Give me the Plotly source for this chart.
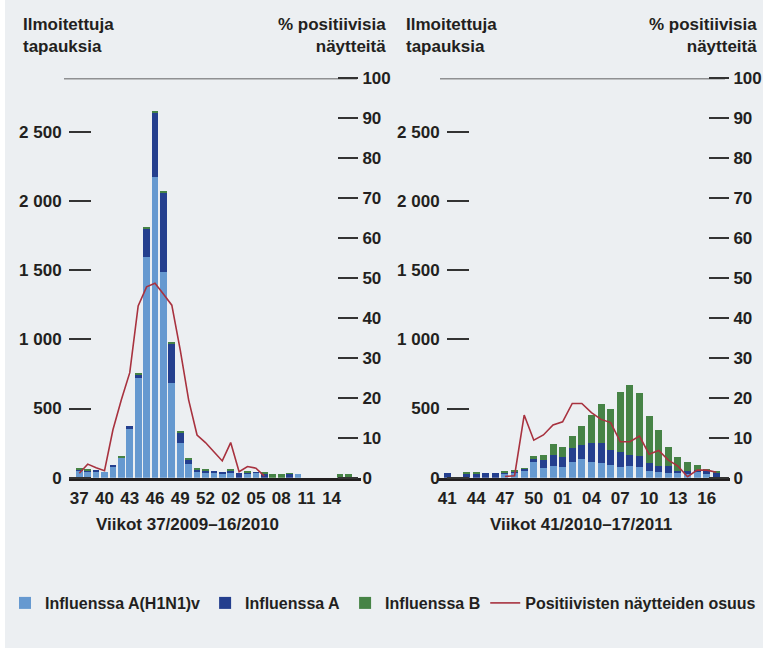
import plotly.graph_objects as go

# ---------------- data ----------------
weeks_left = ["37", "38", "39", "40", "41", "42", "43", "44", "45", "46", "47", "48", "49", "50",
              "51", "52", "53", "01", "02", "03", "04", "05", "06", "07", "08", "09", "10",
              "11", "12", "13", "14", "15", "16"]
h1n1_left = [50, 41, 40, 43, 77, 143, 353, 724, 1592, 2176, 1484, 688, 251, 99,
             39, 36, 38, 30, 36, 0, 27, 33, 0, 0, 0, 0, 28, 0, 0, 0, 0, 0, 0]
a_left = [8, 10, 8, 0, 8, 0, 21, 19, 203, 461, 572, 282, 72, 31,
          18, 14, 10, 8, 12, 36, 10, 3, 28, 0, 0, 25, 0, 0, 0, 0, 0, 0, 0]
b_left = [4, 6, 0, 0, 0, 7, 0, 7, 7, 17, 12, 3, 8, 5,
          6, 6, 0, 0, 6, 0, 7, 0, 4, 30, 30, 5, 0, 0, 0, 0, 0, 30, 30]
pct_left = [1.1, 3.4, 2.5, 1.75, 12.0, 19.5, 26.3, 43.0, 47.8, 48.7, 46.0, 43.2, 32.0, 19.5,
            10.7, 8.8, 6.5, 4.2, 8.8, 1.5, 2.8, 2.4, 0.4, None, None, None, None,
            None, None, None, None, None, None]

weeks_right = ["41", "42", "43", "44", "45", "46", "47", "48", "49", "50", "51", "52",
               "01", "02", "03", "04", "05", "06", "07", "08", "09", "10", "11", "12",
               "13", "14", "15", "16", "17"]
h1n1_right = [0, 0, 0, 0, 0, 0, 25, 32, 51, 114, 72, 85,
              75, 114, 135, 114, 106, 92, 77, 85, 77, 48, 41, 36, 32, 27, 41, 29, 0]
a_right = [32, 0, 27, 27, 32, 32, 8, 8, 10, 21, 56, 79,
           73, 99, 102, 135, 143, 108, 109, 79, 80, 58, 44, 49, 16, 21, 15, 17, 36]
b_right = [0, 0, 5, 5, 0, 0, 8, 8, 5, 22, 36, 80,
           72, 89, 137, 205, 284, 297, 434, 507, 456, 341, 260, 135, 102, 66, 36, 17, 5]
pct_right = [None, None, None, None, None, None, 0.3, 0.5, 15.7, 9.4, 10.7, 13.2,
             14.0, 18.6, 18.6, 16.3, 14.6, 13.8, 9.0, 9.0, 10.4, 5.9, 6.8, 4.4,
             2.9, 0.25, 1.9, 1.9, 1.35]

xticks_left = ["37", "40", "43", "46", "49", "52", "02", "05", "08", "11", "14"]
xticks_right = ["41", "44", "47", "50", "01", "04", "07", "10", "13", "16"]
cases_tickvals = [0, 500, 1000, 1500, 2000, 2500]
cases_ticktext = ["0", "500", "1 000", "1 500", "2 000", "2 500"]
pct_tickvals = [0, 10, 20, 30, 40, 50, 60, 70, 80, 90, 100]

series_names = ["Influenssa A(H1N1)v", "Influenssa A", "Influenssa B",
                "Positiivisten näytteiden osuus"]
title_cases = "Ilmoitettuja<br>tapauksia"
title_pct = "% positiivisia<br>näytteitä"
xlabel_left = "Viikot 37/2009–16/2010"
xlabel_right = "Viikot 41/2010–17/2011"

# ---------------- style ----------------
W, H = 763, 648
C_H1N1 = "#6699d0"
C_A = "#243f8e"
C_B = "#468346"
C_LINE = "#a8323f"
TXT = "#231f20"
BG = "#eceff2"
FONT = "Liberation Sans Narrow, Arial Narrow, sans-serif"
FS = 17


def px(x):
    return x / W


def py(y):
    return 1 - y / H


fig = go.Figure()

for weeks, h, a, b, pct, xa, ya, ya2, wd, show in [
    (weeks_left, h1n1_left, a_left, b_left, pct_left, "x", "y", "y2", 0.8, True),
    (weeks_right, h1n1_right, a_right, b_right, pct_right, "x2", "y3", "y4", 0.73, False),
]:
    for vals, col, nm in [(h, C_H1N1, series_names[0]), (a, C_A, series_names[1]),
                          (b, C_B, series_names[2])]:
        fig.add_trace(go.Bar(x=weeks, y=vals, name=nm, marker_color=col,
                             marker_line_width=0, width=wd, xaxis=xa, yaxis=ya,
                             showlegend=show))
    fig.add_trace(go.Scatter(x=weeks, y=pct, name=series_names[3], mode="lines",
                             line=dict(color=C_LINE, width=1.6), xaxis=xa, yaxis=ya2,
                             connectgaps=False, showlegend=show))

YDOM = [py(477.7), py(78.4)]
YMAX = 2886

tickfont = dict(family=FONT, size=FS, color=TXT, weight="bold")
common_y = dict(showgrid=False, zeroline=False, showline=False, ticks="outside",
                tickwidth=1.5, tickcolor="#333", tickfont=tickfont, anchor="free",
                domain=YDOM, fixedrange=True)

fig.update_layout(
    width=W, height=H,
    margin=dict(l=0, r=0, t=0, b=0, autoexpand=False),
    paper_bgcolor=BG, plot_bgcolor="rgba(0,0,0,0)",
    barmode="stack",
    font=dict(family=FONT, size=FS, color=TXT, weight="bold"),
    xaxis=dict(domain=[px(69), px(361)], anchor="y", type="category",
               range=[(69 - 79.3) / 8.41, (361 - 79.3) / 8.41],
               tickmode="array", tickvals=xticks_left, ticks="", showgrid=False,
               showline=True, linewidth=3, linecolor=TXT, tickfont=tickfont,
               ticklabelstandoff=3, fixedrange=True),
    xaxis2=dict(domain=[px(438), px(730)], anchor="y3", type="category",
                range=[(438 - 447.3) / 9.61, (730 - 447.3) / 9.61],
                tickmode="array", tickvals=xticks_right, ticks="", showgrid=False,
                showline=True, linewidth=3, linecolor=TXT, tickfont=tickfont,
                ticklabelstandoff=3, fixedrange=True),
    yaxis=dict(**common_y, side="left", position=px(91), ticklen=22,
               range=[0, YMAX], tickvals=cases_tickvals, ticktext=cases_ticktext,
               ticklabelstandoff=4),
    yaxis2=dict(**common_y, side="right", position=px(337), ticklen=20,
                overlaying="y", range=[0, 100], tickvals=pct_tickvals,
                ticklabelstandoff=1),
    yaxis3=dict(**common_y, side="left", position=px(469), ticklen=22,
                range=[0, YMAX], tickvals=cases_tickvals, ticktext=cases_ticktext,
                ticklabelstandoff=4),
    yaxis4=dict(**common_y, side="right", position=px(708), ticklen=20,
                overlaying="y3", range=[0, 100], tickvals=pct_tickvals,
                ticklabelstandoff=1),
    legend=dict(orientation="h", x=px(5), y=py(603), xanchor="left", yanchor="middle",
                traceorder="normal", font=dict(family=FONT, size=16, color=TXT, weight="bold"),
                bgcolor="rgba(0,0,0,0)", itemclick=False, itemdoubleclick=False,
                itemwidth=30),
    showlegend=True,
)

shapes = [
    dict(type="rect", xref="paper", yref="paper", x0=0, x1=px(5), y0=0, y1=1,
         fillcolor="white", line_width=0, layer="below"),
    dict(type="line", xref="paper", yref="y2", x0=px(64), x1=px(357), y0=100, y1=100,
         line=dict(color="#333", width=1.5)),
    dict(type="line", xref="paper", yref="y4", x0=px(440), x1=px(725), y0=100, y1=100,
         line=dict(color="#333", width=1.5)),
]
fig.update_layout(shapes=shapes)

ann_font = dict(family=FONT, size=FS, color=TXT, weight="bold")
annotations = [
    dict(text=title_cases, x=px(21), y=py(13), xanchor="left", yanchor="top", align="left"),
    dict(text=title_pct, x=px(388), y=py(13), xanchor="right", yanchor="top", align="right"),
    dict(text=title_cases, x=px(404), y=py(13), xanchor="left", yanchor="top", align="left"),
    dict(text=title_pct, x=px(759), y=py(13), xanchor="right", yanchor="top", align="right"),
    dict(text=xlabel_left, x=px(187), y=py(524), xanchor="center", yanchor="middle"),
    dict(text=xlabel_right, x=px(581), y=py(524), xanchor="center", yanchor="middle"),
]
for a in annotations:
    a.update(xref="paper", yref="paper", showarrow=False, font=ann_font)
fig.update_layout(annotations=annotations)

fig.write_html("out.html", config={"displayModeBar": False},
               post_script="document.body.style.margin='0';")
